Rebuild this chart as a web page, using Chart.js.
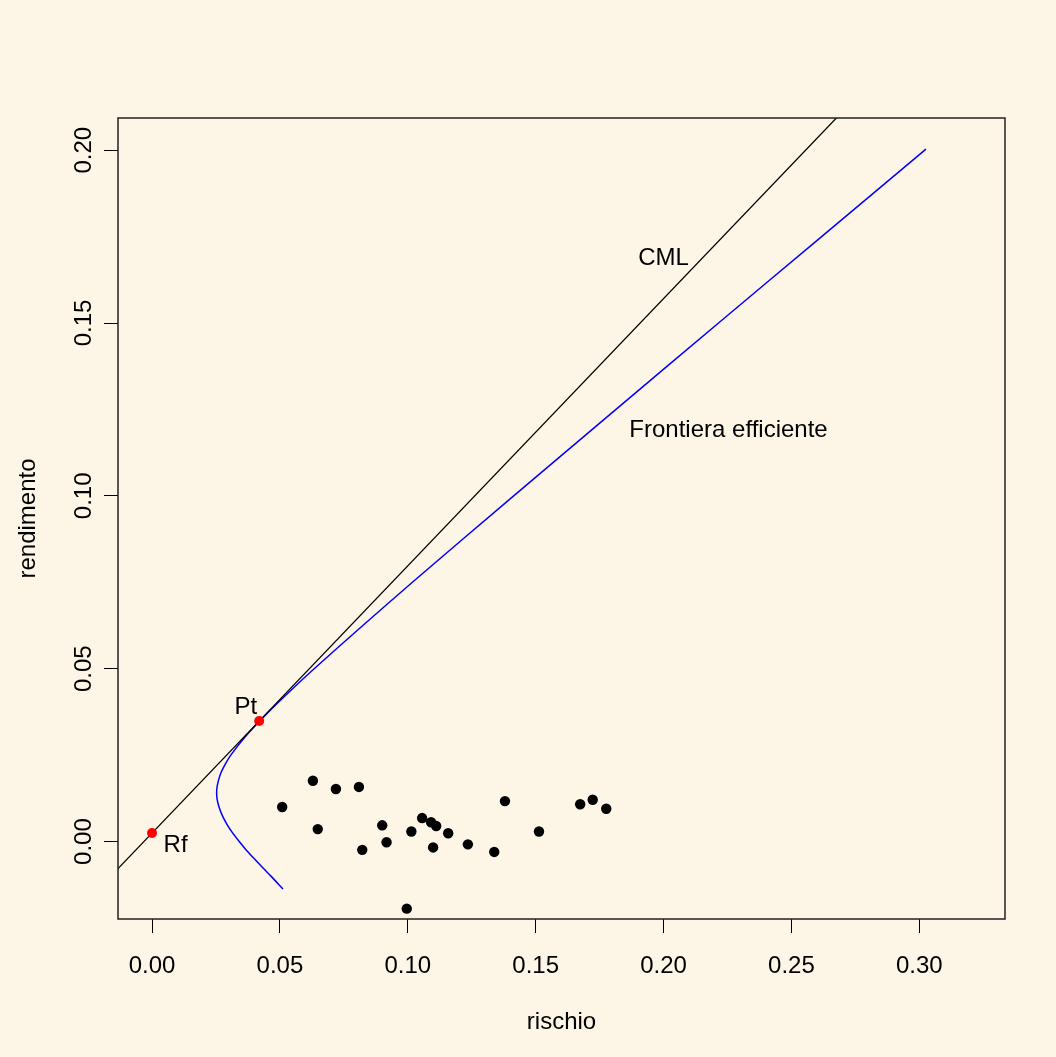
<!DOCTYPE html>
<html lang="it">
<head>
<meta charset="UTF-8">
<title>Frontiera efficiente e CML</title>
<script src="https://cdn.jsdelivr.net/npm/chart.js"></script>
<style>
    body { margin: 0; background-color: #FDF5E6; }
    canvas { display: block; }
</style>
</head>
<body>
<canvas id="chart" width="1056" height="1057"></canvas>
<script>
// assi
const xTicks = [0, 0.05, 0.10, 0.15, 0.20, 0.25, 0.30];
const yTicks = [0, 0.05, 0.10, 0.15, 0.20];
const xTitle = 'rischio';
const yTitle = 'rendimento';

// titoli singoli (rischio, rendimento)
const assetRischio = [0.0509, 0.0629, 0.0719, 0.0809, 0.0648, 0.0822, 0.0900, 0.0917, 0.0996, 0.1014, 0.1056,
                      0.1091, 0.1111, 0.1099, 0.1158, 0.1235, 0.1338, 0.1380, 0.1513, 0.1674, 0.1723, 0.1776];
const assetRendimento = [0.0100, 0.0176, 0.0152, 0.0158, 0.0036, -0.0024, 0.0047, -0.0002, -0.0194, 0.0029, 0.0068,
                         0.0056, 0.0045, -0.0017, 0.0024, -0.0008, -0.0030, 0.0117, 0.0029, 0.0108, 0.0121, 0.0095];

// frontiera efficiente
const frontieraRischio = [0.0512, 0.0465, 0.0432, 0.0400, 0.0369, 0.0341, 0.0315, 0.0293, 0.0275, 0.0262, 0.0254,
                          0.0253, 0.0259, 0.0270, 0.0287, 0.0308, 0.0361, 0.0423, 0.0490, 0.0634, 0.1018, 0.1414,
                          0.1814, 0.2215, 0.2618, 0.3026];
const frontieraRendimento = [-0.0137, -0.0100, -0.0075, -0.0050, -0.0025, 0.0000, 0.0025, 0.0050, 0.0075, 0.0100, 0.0125,
                             0.0150, 0.0175, 0.0200, 0.0225, 0.0250, 0.0300, 0.0350, 0.0400, 0.0500, 0.0750, 0.1000,
                             0.1250, 0.1500, 0.1750, 0.2003];

// capital market line
const cmlRischio = [-0.02, 0.28];
const cmlRendimento = [-0.0130, 0.2189];

// risk free e portafoglio tangente
const puntiRischio = [0, 0.0419];
const puntiRendimento = [0.0025, 0.0349];

// etichette nel grafico
const etichette = ['CML', 'Frontiera efficiente', 'Pt', 'Rf'];
const etichetteX = [0.2000, 0.2254, 0.0367, 0.0092];
const etichetteY = [0.1693, 0.1196, 0.0394, -0.0007];

const toXY = (xs, ys) => xs.map((v, i) => ({ x: v, y: ys[i] }));
const font = '24px "Liberation Sans", Arial, sans-serif';

// sfondo, riquadro, testi
const disegno = {
    id: 'disegno',
    beforeDraw(chart) {
        const ctx = chart.ctx;
        ctx.save();
        ctx.fillStyle = '#FDF5E6';
        ctx.fillRect(0, 0, chart.width, chart.height);
        ctx.restore();
    },
    afterDraw(chart) {
        const { ctx, chartArea: a, scales: { x, y } } = chart;
        ctx.save();
        ctx.strokeStyle = '#222';
        ctx.lineWidth = 1.5;
        ctx.strokeRect(a.left, a.top, a.right - a.left, a.bottom - a.top);

        ctx.fillStyle = '#000';
        ctx.font = font;
        ctx.textAlign = 'center';
        ctx.textBaseline = 'alphabetic';
        xTicks.forEach(v => ctx.fillText(v.toFixed(2), x.getPixelForValue(v), a.bottom + 54));
        yTicks.forEach(v => {
            ctx.save();
            ctx.translate(a.left - 27, y.getPixelForValue(v));
            ctx.rotate(-Math.PI / 2);
            ctx.fillText(v.toFixed(2), 0, 0);
            ctx.restore();
        });

        ctx.fillText(xTitle, (a.left + a.right) / 2, a.bottom + 110);
        ctx.save();
        ctx.translate(a.left - 83, (a.top + a.bottom) / 2);
        ctx.rotate(-Math.PI / 2);
        ctx.fillText(yTitle, 0, 0);
        ctx.restore();

        etichette.forEach((t, i) => {
            ctx.fillText(t, x.getPixelForValue(etichetteX[i]), y.getPixelForValue(etichetteY[i]) + 8.5);
        });
        ctx.restore();
    }
};

const axisBase = {
    type: 'linear',
    grid: { drawOnChartArea: false, drawTicks: true, tickLength: 14, color: '#000', lineWidth: 1 },
    border: { display: false },
    ticks: { display: false }
};

new Chart(document.getElementById('chart'), {
    type: 'scatter',
    data: {
        datasets: [
            {
                label: 'Rf / Pt',
                data: toXY(puntiRischio, puntiRendimento),
                backgroundColor: '#FF0000',
                borderColor: '#FF0000',
                pointRadius: 5,
                borderWidth: 0
            },
            {
                label: 'Titoli',
                data: toXY(assetRischio, assetRendimento),
                backgroundColor: '#000',
                borderColor: '#000',
                pointRadius: 5.2,
                borderWidth: 0
            },
            {
                label: 'CML',
                data: toXY(cmlRischio, cmlRendimento),
                showLine: true,
                pointRadius: 0,
                borderColor: '#000',
                borderWidth: 1.3
            },
            {
                label: 'Frontiera efficiente',
                data: toXY(frontieraRischio, frontieraRendimento),
                showLine: true,
                pointRadius: 0,
                tension: 0.3,
                borderColor: '#0000FF',
                borderWidth: 1.5
            }
        ]
    },
    options: {
        responsive: false,
        animation: false,
        devicePixelRatio: 1,
        layout: { padding: { top: 118, right: 51, left: 0, bottom: 0 } },
        plugins: { legend: { display: false }, tooltip: { enabled: false } },
        scales: {
            x: Object.assign({}, axisBase, {
                min: -0.0133, max: 0.3335,
                afterBuildTicks: s => { s.ticks = xTicks.map(v => ({ value: v })); },
                afterFit: s => { s.height = 138; }
            }),
            y: Object.assign({}, axisBase, {
                min: -0.0224, max: 0.2093,
                afterBuildTicks: s => { s.ticks = yTicks.map(v => ({ value: v })); },
                afterFit: s => { s.width = 118; }
            })
        }
    },
    plugins: [disegno]
});
</script>
</body>
</html>
